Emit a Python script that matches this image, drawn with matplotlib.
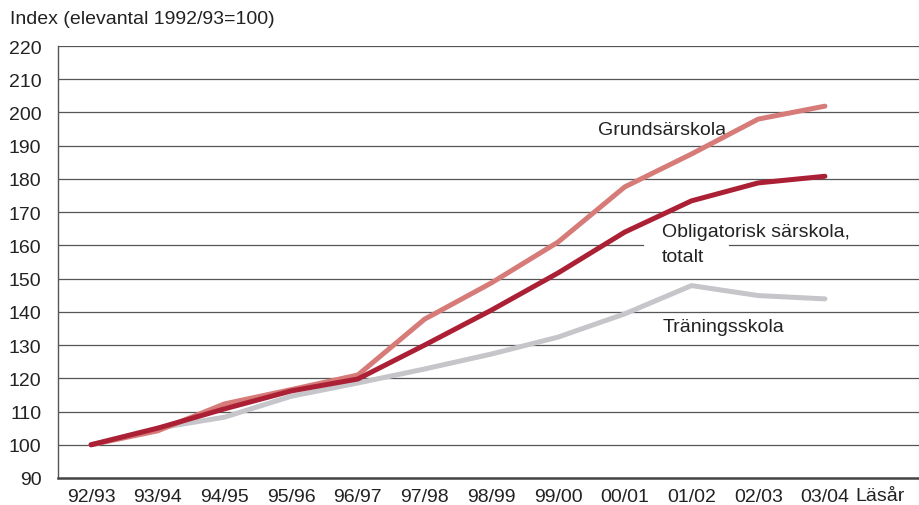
import matplotlib.pyplot as plt

# --- Data ---
years = ["92/93", "93/94", "94/95", "95/96", "96/97", "97/98",
         "98/99", "99/00", "00/01", "01/02", "02/03", "03/04"]
traning = [100, 105, 108.3, 114.6, 118.6, 122.8, 127.3, 132.4, 139.4, 147.9, 144.9, 143.9]
grund = [100, 104.2, 112.3, 116.6, 121, 137.8, 148.7, 161, 177.6, 187.5, 198, 201.9]
totalt = [100, 105, 110.8, 116.2, 119.8, 130, 140.5, 151.7, 164, 173.4, 178.8, 180.8]

plt.rcParams['font.family'] = ['Liberation Sans', 'DejaVu Sans']

fig = plt.figure(figsize=(9.19, 5.06), dpi=100)
ax = fig.add_axes([58 / 919, 1 - 479 / 506, 1 - 58 / 919, (479 - 47) / 506])

x = list(range(len(years)))
ax.plot(x, traning, color="#c5c5ca", lw=3.6, solid_capstyle="round", zorder=3)
ax.plot(x, grund, color="#d67b78", lw=3.6, solid_capstyle="round", zorder=4)
ax.plot(x, totalt, color="#ab2035", lw=3.6, solid_capstyle="round", zorder=5)

# --- Axes settings ---
ax.set_ylim(90, 220)
ax.set_xlim(-0.495, 12.41)
ax.set_yticks(range(90, 221, 10))
ax.set_xticks(x)
ax.set_xticklabels(years, fontsize=15)
ax.tick_params(length=0, labelsize=14, colors="#222222")
ax.tick_params(axis="y", pad=12)
ax.tick_params(axis="x", pad=7)
for v in range(100, 221, 10):
    if v == 160:
        # gridline broken behind the "totalt" label
        ax.axhline(v, xmax=0.679, color="#555555", lw=0.9, zorder=1)
        ax.axhline(v, xmin=0.779, color="#555555", lw=0.9, zorder=1)
    else:
        ax.axhline(v, color="#555555", lw=0.9, zorder=1)
for s in ["top", "right"]:
    ax.spines[s].set_visible(False)
ax.spines["left"].set_color("#555555")
ax.spines["left"].set_linewidth(1.0)
ax.spines["bottom"].set_color("#444444")
ax.spines["bottom"].set_linewidth(1.8)

# --- Labels ---
fig.text(10 / 919, 1 - 20 / 506, "Index (elevantal 1992/93=100)", fontsize=14,
         va="center", ha="left", color="#222222")
ax.text(11.82, 84.6, "Läsår", fontsize=14, ha="center", va="center", color="#222222",
        clip_on=False)
ax.text(7.6, 195, "Grundsärskola", fontsize=14, va="center", ha="left", color="#222222")
ax.text(8.56, 164.3, "Obligatorisk särskola,", fontsize=14, va="center", ha="left",
        color="#222222", zorder=6)
ax.text(8.56, 156.8, "totalt", fontsize=14, va="center", ha="left", color="#222222",
        zorder=6)
ax.text(8.56, 135.7, "Träningsskola", fontsize=14, va="center", ha="left", color="#222222")

plt.savefig("out.png", dpi=100)
